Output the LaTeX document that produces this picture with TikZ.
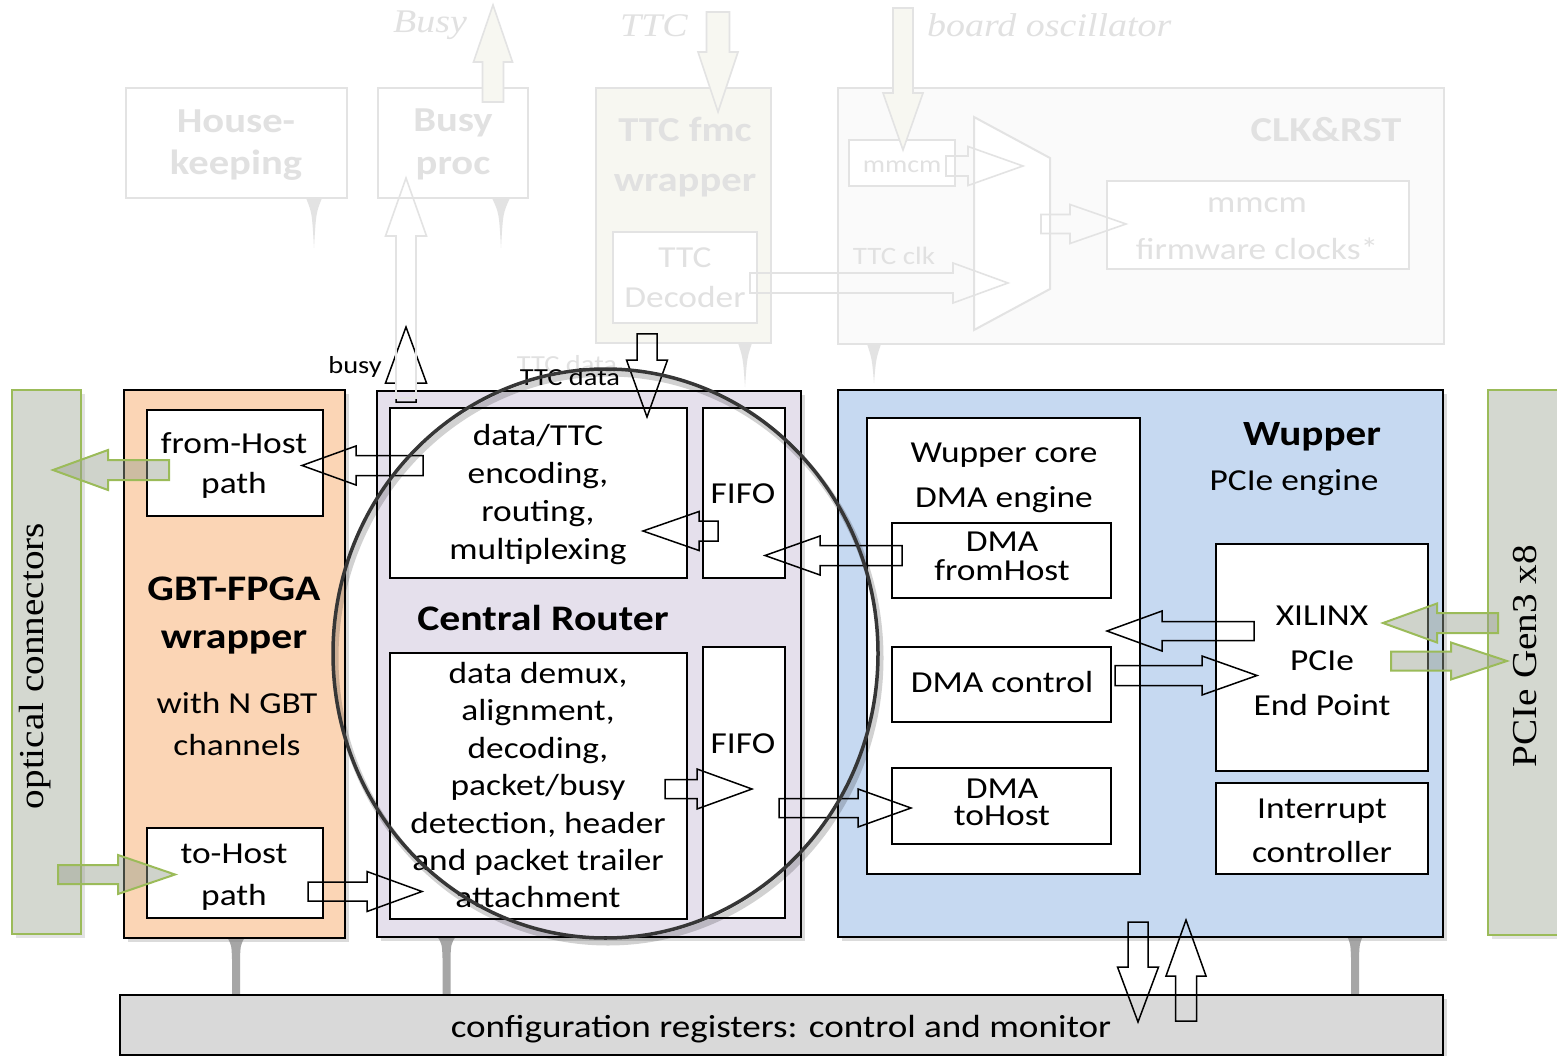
\documentclass[tikz,border=0pt]{standalone}
\usepackage{fontspec}
\setmainfont{Carlito}[FakeStretch=1.16]
\newfontfamily\sidefont{Liberation Serif}[FakeStretch=1.12]
\newfontfamily\noteserif{Liberation Serif}[FakeStretch=1.15]
\usetikzlibrary{shadows}

\definecolor{gbtfill}{HTML}{FBD5B5}
\definecolor{crfill}{HTML}{E5E0EC}
\definecolor{wupfill}{HTML}{C6D9F1}
\definecolor{cfgfill}{HTML}{D9D9D9}
\definecolor{barfill}{HTML}{D4D8D0}
\definecolor{bargreen}{HTML}{9BBB59}
\definecolor{greenarrowfill}{HTML}{969E8C}
\definecolor{funnelgray}{HTML}{A6A6A6}
\definecolor{faintline}{HTML}{E3E3E3}
\definecolor{fainttext}{HTML}{E1E1E1}
\definecolor{faintfill}{HTML}{F7F7F1}
\definecolor{ringcol}{HTML}{363636}

% box from corner (x1,y1) to (x2,y2), as a named node
\newcommand\mkbox[6]{\node[#1, minimum width={(#4)-(#2)}, minimum height={(#5)-(#3)}] (#6) at ({((#2)+(#4))/2},{((#3)+(#5))/2}) {};}
% horizontal block arrow: style, x tail, x head base, x tip, y centre, shaft half width, head half width
\newcommand\harrow[7]{\draw[#1] (#2,#5-#6) -- (#3,#5-#6) -- (#3,#5-#7) -- (#4,#5) -- (#3,#5+#7) -- (#3,#5+#6) -- (#2,#5+#6) -- cycle;}
% vertical block arrow: style, y tail, y head base, y tip, x centre, shaft half width, head half width
\newcommand\varrow[7]{\draw[#1] (#5-#6,#2) -- (#5-#6,#3) -- (#5-#7,#3) -- (#5,#4) -- (#5+#7,#3) -- (#5+#6,#3) -- (#5+#6,#2) -- cycle;}
% grey link from a block down to the register bar: x centre, y top, y bottom, top half width
\newcommand\funnel[4]{\fill[funnelgray] (#1-#4,#2) .. controls (#1-4.5,#2+8) .. (#1-4,#2+22) -- (#1-4,#3) -- (#1+4,#3) -- (#1+4,#2+22) .. controls (#1+4.5,#2+8) .. (#1+#4,#2) -- cycle;}
% pale spike under a faded block
\newcommand\spike[4]{\fill[faintline] (#1-#4,#2) -- (#1+#4,#2) .. controls (#1+2,#2+15) .. (#1,#3) .. controls (#1-2,#2+15) .. cycle;}

\tikzset{
  inbox/.style={draw=black, line width=2pt, fill=white, inner sep=0pt, outer sep=0pt},
  bigbox/.style={draw=black, line width=2.4pt, inner sep=0pt, outer sep=0pt,
    drop shadow={shadow xshift=4pt, shadow yshift=-4pt, opacity=0.28}},
  greenbar/.style={draw=bargreen, line width=2.2pt, fill=barfill, inner sep=0pt, outer sep=0pt,
    drop shadow={shadow xshift=4pt, shadow yshift=-4pt, opacity=0.22}},
  fbox/.style={draw=faintline, line width=2pt, fill=white, inner sep=0pt, outer sep=0pt},
  txt/.style={inner sep=0pt, anchor=base, font=\fontsize{30.5}{35}\selectfont},
  smalltxt/.style={txt, font=\fontsize{24.5}{29}\selectfont},
  ttl/.style={txt, font=\fontsize{36}{42}\selectfont\bfseries},
  ftxt/.style={txt, text=fainttext},
  fttl/.style={ttl, text=fainttext, font=\fontsize{35}{42}\selectfont\bfseries},
  fnote/.style={inner sep=0pt, anchor=base, text=fainttext, font=\fontsize{33}{40}\noteserif\itshape},
  sidetxt/.style={inner sep=0pt, rotate=90, font=\fontsize{35}{40}\sidefont},
  barrow/.style={draw=black, line width=1.5pt, line join=miter},
  garrow/.style={draw=bargreen, line width=2pt, line join=miter, fill=greenarrowfill, fill opacity=0.45},
  farrow/.style={draw=faintline, line width=1.6pt, line join=miter},
}

\begin{document}
\begin{tikzpicture}[x=1pt, y=-1pt]
\fill[white] (0,0) rectangle (1557,1056);
\useasboundingbox (0,0) rectangle (1557,1056);

% ---------- faded context blocks ----------
\spike{314}{198}{248}{8}
\spike{501}{198}{248}{9}
\spike{745}{343}{387}{7}
\spike{874}{344}{383}{7}

\mkbox{fbox}{126}{88}{347}{198}{hk}
\mkbox{fbox}{378}{88}{528}{198}{bp}
\mkbox{fbox, fill=faintfill}{596}{88}{771}{343}{ttcw}
\mkbox{fbox}{613}{232}{757}{323}{ttcd}
\mkbox{fbox, fill=white!98!black}{838}{88}{1444}{344}{clk}
\mkbox{fbox}{849}{140}{955}{186}{mmsel}
\mkbox{fbox}{1107}{181}{1409}{269}{mmfw}
\draw[faintline, line width=2pt, fill=white] (974,117) -- (1050,158) -- (1050,289) -- (974,330) -- cycle;

\node[fttl] (hk1) at (236,133) {House-};
\node[fttl] (hk2) at (236,175) {keeping};
\node[fttl] (bp1) at (453,132) {Busy};
\node[fttl] (bp2) at (453,175) {proc};
\node[fttl] (tw1) at (685,142) {TTC fmc};
\node[fttl] (tw2) at (685,192) {wrapper};
\node[ftxt] (td1) at (685,268) {TTC};
\node[ftxt] (td2) at (685,308) {Decoder};
\node[fttl] (clkt) at (1326,142) {CLK\&RST};
\node[ftxt, font=\fontsize{24}{29}\selectfont] (mms) at (902,173) {mmcm};
\node[ftxt] (mf1) at (1257,213) {mmcm};
\node[ftxt] (mf2) at (1257,260) {firmware clocks*};
\node[ftxt, font=\fontsize{25}{29}\selectfont] (ttcclk) at (894,265) {TTC clk};
\node[fnote] (nbusy) at (430,33) {Busy};
\node[fnote] (nttc) at (654,37) {TTC};
\node[fnote, anchor=base west] (nosc) at (927,37) {board oscillator};
\node[smalltxt, text=fainttext] (fttcdata) at (567,372) {TTC data};

\varrow{farrow, fill=faintfill}{102}{62}{5}{493}{10.5}{19.5}
\varrow{farrow, fill=faintfill}{12}{52}{112}{718}{11.5}{20}
\varrow{farrow, fill=faintfill}{8}{93}{150}{903}{10}{20}
\harrow{farrow}{946}{968}{1023}{166}{10}{19.5}
\harrow{farrow}{1041}{1070}{1126}{224}{9.5}{19.5}
\harrow{farrow}{750}{953}{1008}{283}{10}{20}

% ---------- links to the register bar ----------
\funnel{236}{937}{996}{9}
\funnel{446.5}{936}{996}{9.5}
\funnel{1355}{936}{996}{8}

% ---------- side connectors ----------
\mkbox{greenbar}{12}{390}{81}{934}{opt}
\mkbox{greenbar}{1488}{390}{1580}{935}{pcie}
\node[sidetxt] (optt) at (35,666) {optical connectors};
\node[sidetxt] (pciet) at (1525,656) {PCIe Gen3 x8};

% ---------- main blocks ----------
\mkbox{bigbox, fill=gbtfill}{124}{390}{345}{938}{gbt}
\mkbox{bigbox, fill=crfill}{377}{391}{801}{937}{cr}
\mkbox{bigbox, fill=wupfill}{838}{390}{1443}{937}{wup}
\mkbox{bigbox, fill=cfgfill, drop shadow={opacity=0}}{120}{995}{1443}{1055}{cfg}

\mkbox{inbox}{147}{410}{323}{516}{fh}
\mkbox{inbox}{147}{828}{323}{918}{th}
\mkbox{inbox}{390}{408}{687}{578}{enc}
\mkbox{inbox}{703}{408}{785}{578}{fifoa}
\mkbox{inbox}{390}{653}{687}{919}{dec}
\mkbox{inbox}{703}{647}{785}{918}{fifob}
\mkbox{inbox}{867}{418}{1140}{874}{core}
\mkbox{inbox}{892}{523}{1111}{598}{dmafh}
\mkbox{inbox}{892}{647}{1111}{722}{dmactl}
\mkbox{inbox}{892}{768}{1111}{844}{dmath}
\mkbox{inbox}{1216}{544}{1428}{771}{xil}
\mkbox{inbox}{1216}{783}{1428}{874}{irq}

% ---------- texts ----------
\node[txt] (fh1) at (234,453) {from-Host};
\node[txt] (fh2) at (234,493) {path};
\node[txt] (th1) at (234,863) {to-Host};
\node[txt] (th2) at (234,905) {path};
\node[ttl] (gbt1) at (234,600) {GBT-FPGA};
\node[ttl] (gbt2) at (234,648) {wrapper};
\node[txt] (gbt3) at (237,713) {with N GBT};
\node[txt] (gbt4) at (237,755) {channels};

\node[txt] (enc1) at (538,445) {data/TTC};
\node[txt] (enc2) at (538,483) {encoding,};
\node[txt] (enc3) at (538,521) {routing,};
\node[txt] (enc4) at (538,559) {multiplexing};
\node[txt] (fifoat) at (743,503) {FIFO};
\node[ttl] (crt) at (543,630) {Central Router};
\node[txt] (dec1) at (538,683) {data demux,};
\node[txt] (dec2) at (538,720) {alignment,};
\node[txt] (dec3) at (538,758) {decoding,};
\node[txt] (dec4) at (538,795) {packet/busy};
\node[txt] (dec5) at (538,833) {detection, header};
\node[txt] (dec6) at (538,870) {and packet trailer};
\node[txt] (dec7) at (538,907) {attachment};
\node[txt] (fifobt) at (743,753) {FIFO};

\node[ttl, font=\fontsize{35.5}{42}\selectfont\bfseries] (wupt) at (1312,445) {Wupper};
\node[txt] (wup2) at (1294,490) {PCIe engine};
\node[txt] (core1) at (1004,462) {Wupper core};
\node[txt] (core2) at (1004,507) {DMA engine};
\node[txt] (dfh1) at (1002,551) {DMA};
\node[txt] (dfh2) at (1002,580) {fromHost};
\node[txt] (dctl) at (1002,692) {DMA control};
\node[txt] (dth1) at (1002,798) {DMA};
\node[txt] (dth2) at (1002,825) {toHost};
\node[txt] (xil1) at (1322,625) {XILINX};
\node[txt] (xil2) at (1322,670) {PCIe};
\node[txt] (xil3) at (1322,715) {End Point};
\node[txt] (irq1) at (1322,818) {Interrupt};
\node[txt] (irq2) at (1322,862) {controller};
\node[txt, font=\fontsize{32}{36}\selectfont] (cfgt) at (781,1037) {configuration registers: control and monitor};

\node[smalltxt] (busyt) at (355,373) {busy};
\node[smalltxt] (ttcdt) at (570,385) {TTC data};

% ---------- data paths ----------
\harrow{garrow}{169}{108}{53}{470}{10}{20}
\harrow{garrow}{58}{118}{175}{874.5}{9.5}{19.5}
\harrow{garrow}{1498}{1437}{1383}{623}{10}{19.5}
\harrow{garrow}{1391}{1451}{1507}{661}{9.5}{18.5}

\harrow{barrow}{423}{356}{302}{465.5}{10}{19.5}
\harrow{barrow}{718}{699}{643}{531}{10}{19.5}
\harrow{barrow}{902}{820}{765}{555.5}{10}{19.5}
\harrow{barrow}{308}{367}{422}{891.5}{9.5}{20}
\harrow{barrow}{665}{697}{752}{789}{9.5}{20}
\harrow{barrow}{779}{858}{911}{808}{9.5}{19}
\harrow{barrow}{1254}{1162}{1107}{631}{9.5}{20}
\harrow{barrow}{1115}{1202}{1257}{675.5}{10}{19.5}
\varrow{barrow}{402}{383}{327}{406}{10}{20.5}
\varrow{barrow}{334}{360}{417}{647}{10}{20.5}
\varrow{barrow}{922}{967}{1022}{1138}{10}{20.5}
\varrow{barrow}{1021}{976}{920}{1186}{10.5}{20}

% busy line towards the busy processor (faded)
\varrow{farrow}{398}{236}{178}{406}{10}{20.5}

% ---------- highlight ring ----------
\draw[black, opacity=0.18, line width=6pt] (608,658) ellipse [x radius=272.5pt, y radius=284.5pt];
\draw[ringcol, line width=3.5pt] (605.5,653.5) ellipse [x radius=272.5pt, y radius=284.5pt];
\end{tikzpicture}
\end{document}
